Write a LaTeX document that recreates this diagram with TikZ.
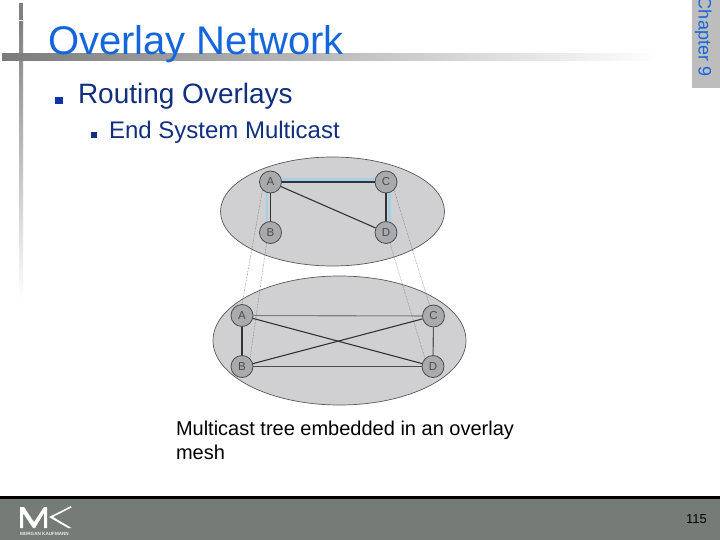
\documentclass[tikz,border=0pt]{standalone}
\usepackage{fontspec}
\usetikzlibrary{shapes.geometric}
\setmainfont{Liberation Sans}
\definecolor{titleblue}{HTML}{1466DC}
\definecolor{textblue}{HTML}{10307F}
\definecolor{bullet}{HTML}{0A36A8}
\definecolor{band}{HTML}{757C77}
\definecolor{ellfill}{HTML}{D0D0D2}
\definecolor{nodefill}{HTML}{A9AAAD}
\definecolor{hl}{HTML}{A5CFE4}
\tikzset{
  ell/.style={ellipse,draw=black!65,line width=.7pt,fill=ellfill,inner sep=0pt},
  host/.style={circle,draw=black!70,line width=.8pt,fill=nodefill,minimum size=22pt,inner sep=0pt,font=\fontsize{11.5}{11.5}\selectfont,text=black!70},
  link/.style={line width=1.1pt,draw=black!80},
  glow/.style={line width=2.8pt,draw=hl},
  drop/.style={densely dotted,line width=.5pt,draw=black!60},
  lbl/.style={anchor=base west,inner sep=0pt,outer sep=0pt}
}
\begin{document}
\begin{tikzpicture}[x=1pt,y=-1pt]
\useasboundingbox (0,0) rectangle (720,540);
\fill[white] (0,0) rectangle (720,540);
% frame bars
\fill[black!50] (19,3) rectangle (23,20);
\shade[top color=black!50,bottom color=white] (19,22) rectangle (23,300);
\shade[left color=black!52,right color=white] (2,54) rectangle (660,61);
% title
\node[lbl,text=titleblue,font=\fontsize{40}{40}\selectfont] (title) at (48,54.5) {Overlay Network};
\fill[bullet] (55,97) rectangle (63,104);
\node[lbl,text=textblue,font=\fontsize{28}{28}\selectfont] (l1) at (78,104) {Routing Overlays};
\fill[textblue] (91,132) rectangle (97,138);
\node[lbl,text=textblue,font=\fontsize{24}{24}\selectfont] (l2) at (109,139) {End System Multicast};
% chapter tab
\begin{scope}
\clip (692,0) rectangle (720,88);
\fill[black!26] (692,0) rectangle (720,88);
\node[lbl,rotate=-90,text=titleblue,font=\fontsize{18}{18}\selectfont] (chap) at (698.5,-3) {Chapter 9};
\end{scope}
% ellipses
\node[ell,minimum width=224pt,minimum height=109pt] (top) at (332.5,211.5) {};
\node[ell,minimum width=253pt,minimum height=129pt] (bot) at (339.5,340.5) {};
% nodes
\node[host] (A1) at (270.5,182) {A};
\node[host] (C1) at (386,182) {C};
\node[host] (B1) at (270.5,232.5) {B};
\node[host] (D1) at (386,232.5) {D};
\node[host] (A2) at (242,315.5) {A};
\node[host] (C2) at (433.5,316) {C};
\node[host] (B2) at (242,366.5) {B};
\node[host] (D2) at (433,366.5) {D};
% highlighted tree
\draw[glow] ([yshift=2.6pt]A1.east) -- ([yshift=2.6pt]C1.west);
\draw[glow] ([xshift=-3.6pt]A1.south) -- ([xshift=-3.6pt]B1.north);
\draw[glow] ([xshift=3.6pt]C1.south) -- ([xshift=3.6pt]D1.north);
% upper links
\draw[link] (A1) -- (C1);
\draw[link] (A1) -- (B1);
\draw[link] (C1) -- (D1);
\draw[link] (A1) -- (D1);
% lower links
\draw[link,draw=black!50] (A2) -- (C2);
\draw[link] (A2) -- (B2);
\draw[link] (A2) -- (D2);
\draw[link] (B2) -- (C2);
\draw[link,draw=black!70] (B2) -- (D2);
\draw[link,draw=black!65] (C2) -- (D2);
% drop lines
\draw[drop] (A1.south west) -- (A2.north);
\draw[drop] (B1.-110) -- (B2.north east);
\draw[drop] (C1.south east) -- (C2.110);
\draw[drop] (D1.-70) -- (D2.north west);
% caption
\node[lbl,text=black,font=\fontsize{20}{20}\selectfont] (cap1) at (176,435) {Multicast tree embedded in an overlay};
\node[lbl,text=black,font=\fontsize{20}{20}\selectfont] (cap2) at (176,459) {mesh};
% footer
\fill[band] (0,499) rectangle (720,540);
\fill[black] (0,496) rectangle (720,499);
\fill[white] (20,528) -- (20,507) -- (24,507) -- (34,522) -- (44,507) -- (47,507) -- (47,528) -- (44,528) -- (44,513) -- (35,528) -- (33,528) -- (23,513) -- (23,528) -- cycle;
\fill[white] (71,506) -- (71.5,507.5) -- (53,517) -- (71.5,528) -- (68,528) -- (49,517) -- cycle;
\node[lbl,text=white!85!band,font=\fontsize{4.6}{4.6}\bfseries\selectfont] (mk) at (20,535) {MORGAN KAUFMANN};
\node[lbl,text=black,font=\fontsize{13}{13}\selectfont] (page) at (686,523) {115};
\end{tikzpicture}
\end{document}
